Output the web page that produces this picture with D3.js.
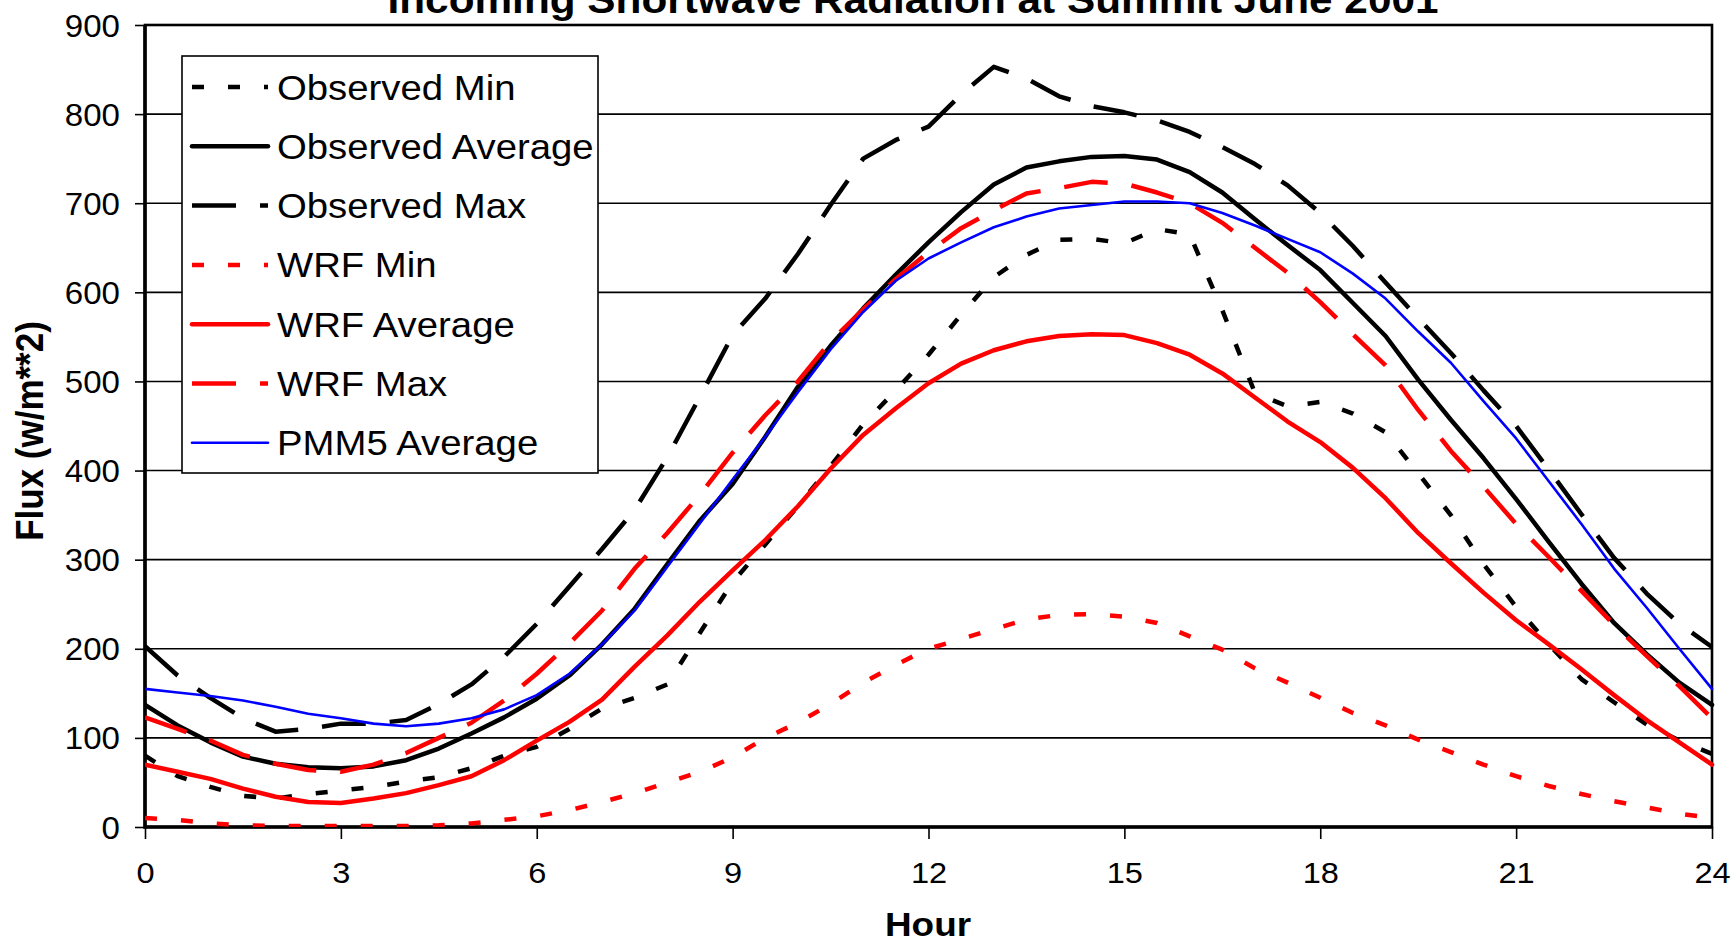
<!DOCTYPE html>
<html>
<head>
<meta charset="utf-8">
<script src="https://cdn.jsdelivr.net/npm/d3@7"></script>
<style>
    html, body { margin: 0; padding: 0; background: #fff; }
    svg { display: block; font-family: "Liberation Sans", Arial, sans-serif; }
</style>
</head>
<body>
<script>
"use strict";

// half-hourly values
const hours = [0, 0.5, 1, 1.5, 2, 2.5, 3, 3.5, 4, 4.5, 5, 5.5, 6, 6.5, 7, 7.5, 8, 8.5, 9, 9.5,
    10, 10.5, 11, 11.5, 12, 12.5, 13, 13.5, 14, 14.5, 15, 15.5, 16, 16.5, 17, 17.5, 18, 18.5, 19, 19.5,
    20, 20.5, 21, 21.5, 22, 22.5, 23, 23.5, 24];

const obsMin = [80, 57, 45, 35, 32, 37, 41, 45, 51, 56, 66, 80, 90, 110, 133, 145, 160, 218, 275, 317,
    360, 405, 452, 490, 530, 575, 617, 642, 659, 660, 655, 671, 665, 580, 487, 472, 477, 464, 443, 397,
    350, 295, 247, 205, 166, 140, 115, 97, 82];
const obsAvg = [137, 114, 95, 79, 71, 67, 66, 68, 75, 88, 105, 123, 144, 170, 205, 245, 295, 344, 385, 438,
    494, 540, 582, 620, 656, 690, 721, 740, 747, 752, 753, 749, 735, 712, 682, 653, 625, 588, 551, 502,
    457, 414, 368, 320, 273, 229, 194, 162, 137];
const obsMax = [203, 170, 145, 122, 107, 110, 116, 116, 120, 138, 160, 191, 228, 270, 312, 356, 415, 483, 552, 593,
    643, 698, 750, 771, 786, 822, 853, 840, 820, 809, 802, 793, 780, 763, 744, 720, 689, 652, 611, 571,
    532, 490, 450, 401, 351, 302, 262, 228, 202];
const wrfMin = [10, 8, 4, 2, 1, 1, 1, 1, 1, 2, 4, 8, 12, 19, 28, 38, 50, 62, 78, 100,
    117, 138, 162, 182, 200, 211, 222, 233, 238, 239, 236, 229, 214, 199, 178, 162, 145, 128, 114, 98,
    84, 70, 57, 46, 37, 29, 22, 15, 10];
const wrfAvg = [70, 62, 54, 43, 34, 28, 27, 32, 38, 47, 57, 75, 97, 118, 143, 180, 215, 253, 288, 322,
    360, 402, 440, 470, 498, 520, 535, 545, 551, 553, 552, 543, 530, 509, 482, 455, 432, 403, 369, 330,
    296, 263, 232, 205, 177, 148, 120, 95, 70];
const wrfMax = [123, 110, 97, 81, 71, 64, 62, 70, 83, 100, 117, 142, 172, 206, 243, 290, 330, 373, 420, 462,
    500, 545, 581, 615, 645, 672, 692, 711, 717, 724, 722, 712, 700, 678, 650, 622, 589, 553, 518, 468,
    422, 382, 340, 303, 265, 227, 192, 158, 122];
const pmm5Avg = [155, 151, 147, 142, 135, 127, 122, 116, 113, 116, 122, 132, 148, 172, 205, 243, 292, 341, 390, 438,
    488, 536, 578, 613, 638, 656, 673, 685, 694, 698, 702, 702, 700, 689, 675, 660, 645, 621, 593, 556,
    521, 478, 436, 388, 340, 290, 246, 200, 155];

const seriesNames = ['Observed Min', 'Observed Average', 'Observed Max',
    'WRF Min', 'WRF Average', 'WRF Max', 'PMM5 Average'];
const seriesValues = [obsMin, obsAvg, obsMax, wrfMin, wrfAvg, wrfMax, pmm5Avg];

const xTicks = [0, 3, 6, 9, 12, 15, 18, 21, 24];
const yTicks = [0, 100, 200, 300, 400, 500, 600, 700, 800, 900];

const titleText = 'Incoming Shortwave Radiation at Summit June 2001';
const xTitle = 'Hour';
const yTitle = 'Flux (w/m**2)';

// line look of each series (same order as seriesNames)
const lineStyles = [
    {color: '#000', width: 4.5, dash: '12,24'},
    {color: '#000', width: 4.5, dash: null},
    {color: '#000', width: 4.5, dash: '44,24'},
    {color: '#f00', width: 4.5, dash: '12,24'},
    {color: '#f00', width: 4.5, dash: null},
    {color: '#f00', width: 4.5, dash: '44,24'},
    {color: '#00f', width: 2.6, dash: null}
];

const W = 1733, H = 941;
const plot = {left: 145, right: 1712, top: 25, bottom: 827};
const stretch = 1.085;   // the original text is a bit wider than normal

function hText(parent, x, y, str, sx) {
    // horizontal text, slightly widened like the original
    return parent.append('text')
        .attr('transform', `translate(${x},${y}) scale(${sx || stretch},1)`)
        .text(str);
}

function drawChart() {
    let svg = d3.select('body').append('svg')
        .attr('width', W)
        .attr('height', H);
    svg.append('rect').attr('width', W).attr('height', H).attr('fill', '#fff');

    let x = d3.scaleLinear().domain([0, 24]).range([plot.left, plot.right]);
    let y = d3.scaleLinear().domain([0, 900]).range([plot.bottom, plot.top]);

    // grid lines
    svg.append('g')
        .selectAll('line')
        .data(yTicks.slice(1))
        .join('line')
        .attr('x1', plot.left).attr('x2', plot.right)
        .attr('y1', d => y(d)).attr('y2', d => y(d))
        .attr('stroke', '#000')
        .attr('stroke-width', 1.6);

    // y axis
    let yAxis = svg.append('g')
        .attr('transform', `translate(${plot.left},0)`)
        .call(d3.axisLeft(y).tickValues(yTicks).tickSize(10).tickSizeOuter(0).tickFormat(d3.format('d')));
    yAxis.select('.domain').remove();
    yAxis.selectAll('.tick line').attr('stroke', '#000').attr('stroke-width', 1.6);
    yAxis.selectAll('.tick text')
        .attr('x', null).attr('dy', null)
        .attr('transform', `translate(-25,11) scale(${stretch},1)`)
        .attr('font-size', 30.5)
        .attr('font-family', '"Liberation Sans", Arial, sans-serif')
        .attr('fill', '#000');

    // x axis
    let xAxis = svg.append('g')
        .attr('transform', `translate(0,${plot.bottom})`)
        .call(d3.axisBottom(x).tickValues(xTicks).tickSize(12).tickSizeOuter(0));
    xAxis.select('.domain').remove();
    xAxis.selectAll('.tick line').attr('stroke', '#000').attr('stroke-width', 1.6);
    xAxis.selectAll('.tick text')
        .attr('y', null).attr('dy', null)
        .attr('transform', `translate(0,56) scale(${stretch},1)`)
        .attr('font-size', 30)
        .attr('font-family', '"Liberation Sans", Arial, sans-serif')
        .attr('fill', '#000');

    // plot frame
    svg.append('rect')
        .attr('x', plot.left).attr('y', plot.top)
        .attr('width', plot.right - plot.left).attr('height', plot.bottom - plot.top)
        .attr('fill', 'none')
        .attr('stroke', '#000')
        .attr('stroke-width', 2.6);
    svg.append('path')
        .attr('d', `M${plot.left},${plot.top} V${plot.bottom} H${plot.right}`)
        .attr('fill', 'none')
        .attr('stroke', '#000')
        .attr('stroke-width', 3.6);

    // series
    let line = d3.line()
        .x((d, i) => x(hours[i]))
        .y(d => y(d));
    svg.append('clipPath').attr('id', 'plot-clip')
        .append('rect')
        .attr('x', plot.left).attr('y', plot.top - 5)
        .attr('width', plot.right - plot.left + 3).attr('height', plot.bottom - plot.top + 5);
    let lines = svg.append('g')
        .attr('clip-path', 'url(#plot-clip)');
    seriesValues.forEach((vals, k) => {
        let st = lineStyles[k];
        lines.append('path')
            .datum(vals)
            .attr('d', line)
            .attr('fill', 'none')
            .attr('stroke', st.color)
            .attr('stroke-width', st.width)
            .attr('stroke-dasharray', st.dash)
            .attr('stroke-linejoin', 'round')
            .attr('stroke-linecap', st.dash ? 'butt' : 'round');
    });

    // legend
    let legend = svg.append('g');
    legend.append('rect')
        .attr('x', 182).attr('y', 56)
        .attr('width', 416).attr('height', 417)
        .attr('fill', '#fff')
        .attr('stroke', '#000')
        .attr('stroke-width', 1.6);
    seriesNames.forEach((name, k) => {
        let st = lineStyles[k];
        let cy = 87 + k * 59.3;
        legend.append('line')
            .attr('x1', 192).attr('x2', 268)
            .attr('y1', cy).attr('y2', cy)
            .attr('stroke', st.color)
            .attr('stroke-width', st.width)
            .attr('stroke-dasharray', st.dash)
            .attr('stroke-linecap', st.dash ? 'butt' : 'round');
        hText(legend, 277, cy + 12.5, name, 1.095)
            .attr('font-size', 35)
            .attr('fill', '#000');
    });

    // titles
    hText(svg, 913, 12.5, titleText)
        .attr('text-anchor', 'middle')
        .attr('font-size', 39)
        .attr('font-weight', 'bold');
    hText(svg, 928, 936, xTitle)
        .attr('text-anchor', 'middle')
        .attr('font-size', 34)
        .attr('font-weight', 'bold');
    svg.append('text')
        .attr('transform', `translate(43,${(plot.top + plot.bottom) / 2 + 5}) rotate(-90) scale(1,${stretch})`)
        .attr('text-anchor', 'middle')
        .attr('font-size', 35)
        .attr('font-weight', 'bold')
        .text(yTitle);
}

drawChart();
</script>
</body>
</html>
